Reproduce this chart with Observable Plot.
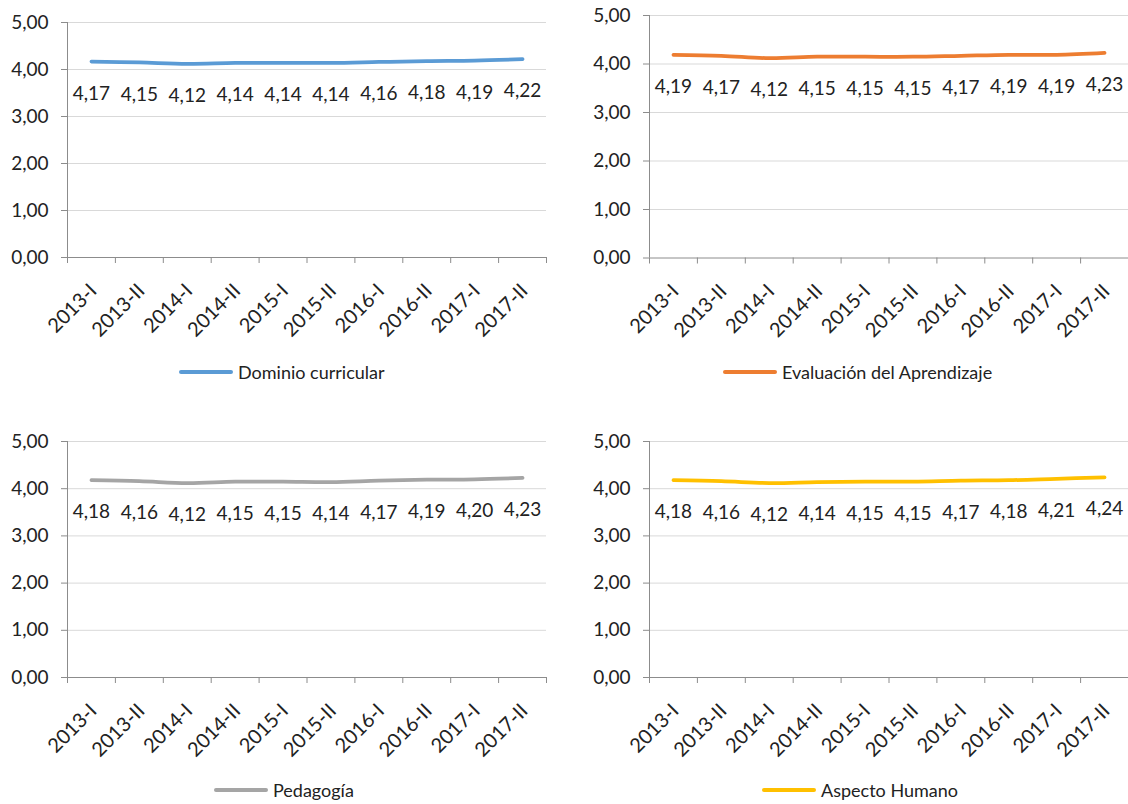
<!DOCTYPE html>
<html>
<head>
<meta charset="utf-8">
<script src="https://cdn.jsdelivr.net/npm/d3@7"></script>
<script src="https://cdn.jsdelivr.net/npm/@observablehq/plot@0.6"></script>
<style>
  html, body { margin: 0; padding: 0; background: #fff; }
  #root { position: relative; width: 1128px; height: 804px; overflow: hidden; font-family: Lato, "Open Sans", sans-serif; color: #222; }
  .panel { position: absolute; }
  .legend { position: absolute; display: flex; align-items: center; font-size: 18px; height: 24px; }
  .legend .sw { width: 54px; height: 4px; border-radius: 2px; margin-right: 5px; }
</style>
</head>
<body>
<div id="root"></div>
<script>
const categories = ["2013-I","2013-II","2014-I","2014-II","2015-I","2015-II","2016-I","2016-II","2017-I","2017-II"];
const dominioCurricular = [4.17,4.15,4.12,4.14,4.14,4.14,4.16,4.18,4.19,4.22];
const evaluacionAprendizaje = [4.19,4.17,4.12,4.15,4.15,4.15,4.17,4.19,4.19,4.23];
const pedagogia = [4.18,4.16,4.12,4.15,4.15,4.14,4.17,4.19,4.20,4.23];
const aspectoHumano = [4.18,4.16,4.12,4.14,4.15,4.15,4.17,4.18,4.21,4.24];
const seriesNames = ["Dominio curricular","Evaluación del Aprendizaje","Pedagogía","Aspecto Humano"];
const seriesColors = ["#5B9BD5","#ED7D31","#A5A5A5","#FFC000"];
const yTicks = [0,1,2,3,4,5];

const fmt = d => d.toFixed(2).replace(".", ",");
const axisColor = "#8c8c8c";
const gridColor = "#d9d9d9";
const textColor = "#222";

const panels = [
  {values: dominioCurricular, left: 0, top: 0, width: 560, mL: 67, mR: 14, mT: 22, mB: 93, legendLeft: 179, legendTop: 360},
  {values: evaluacionAprendizaje, left: 560, top: 0, width: 568, mL: 89, mR: 0, mT: 15, mB: 92.5, legendLeft: 723, legendTop: 360},
  {values: pedagogia, left: 0, top: 420, width: 560, mL: 67, mR: 14, mT: 21, mB: 93, legendLeft: 214, legendTop: 778},
  {values: aspectoHumano, left: 560, top: 420, width: 568, mL: 89, mR: 0, mT: 21, mB: 93, legendLeft: 762, legendTop: 778}
];

const root = document.getElementById("root");

panels.forEach((p, k) => {
  const data = categories.map((c, i) => ({cat: c, idx: i + 0.5, v: p.values[i]}));
  const chart = Plot.plot({
    width: p.width,
    height: 350,
    marginLeft: p.mL,
    marginRight: p.mR,
    marginTop: p.mT,
    marginBottom: p.mB,
    style: {fontFamily: "Lato, 'Open Sans', sans-serif", fontSize: "19px", color: textColor, background: "transparent", overflow: "visible"},
    x: {domain: [0, categories.length]},
    y: {domain: [0, 5]},
    marks: [
      Plot.ruleY(yTicks.slice(1), {stroke: gridColor, strokeWidth: 1}),
      Plot.ruleY([0], {stroke: axisColor, strokeWidth: 1}),
      Plot.ruleX([0], {stroke: axisColor, strokeWidth: 1}),
      Plot.axisX(d3.range(categories.length + 1), {tickSize: 6, tickFormat: () => "", stroke: axisColor, label: null}),
      Plot.axisY(yTicks, {tickSize: 6, tickPadding: 13, tickFormat: fmt, stroke: axisColor, fill: textColor, label: null, fontSize: 19}),
      Plot.line(data, {x: "idx", y: "v", stroke: seriesColors[k], strokeWidth: 3.75, curve: "catmull-rom", strokeLinecap: "round", strokeLinejoin: "round"}),
      Plot.text(data, {x: "idx", y: "v", text: d => fmt(d.v), dy: 32, fill: textColor, fontSize: 19}),
      Plot.text(data, {x: "idx", text: "cat", frameAnchor: "bottom", dx: 2, dy: 30, rotate: -45, textAnchor: "end", lineAnchor: "middle", fill: textColor, fontSize: 20})
    ]
  });
  const wrap = document.createElement("div");
  wrap.className = "panel";
  wrap.style.left = p.left + "px";
  wrap.style.top = p.top + "px";
  wrap.appendChild(chart);
  root.appendChild(wrap);

  const lg = document.createElement("div");
  lg.className = "legend";
  lg.style.left = p.legendLeft + "px";
  lg.style.top = p.legendTop + "px";
  const sw = document.createElement("div");
  sw.className = "sw";
  sw.style.background = seriesColors[k];
  const tx = document.createElement("span");
  tx.textContent = seriesNames[k];
  lg.appendChild(sw);
  lg.appendChild(tx);
  root.appendChild(lg);
});
</script>
</body>
</html>
